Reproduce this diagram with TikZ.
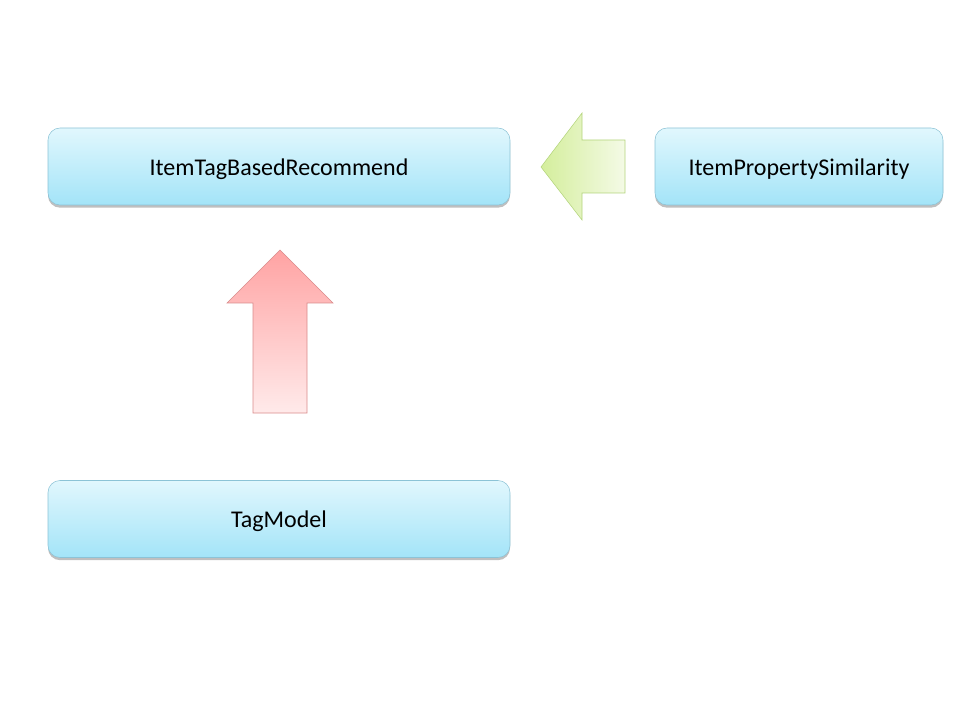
\documentclass[tikz,border=0pt]{standalone}
\usepackage{fontspec}
\setmainfont{Carlito}
\usetikzlibrary{shadows}
\definecolor{boxtop}{HTML}{E1F7FD}
\definecolor{boxbot}{HTML}{A3E4F8}
\definecolor{boxline}{HTML}{8CC3D6}
\definecolor{redtop}{HTML}{FFA3A3}
\definecolor{redbot}{HTML}{FFEAEA}
\definecolor{redline}{HTML}{D98B8B}
\definecolor{grnleft}{HTML}{D4EE9C}
\definecolor{grnright}{HTML}{F4FAE6}
\definecolor{grnline}{HTML}{B3D47C}
\tikzset{
  classbox/.style={draw=boxline, rounded corners=9pt, top color=boxtop, bottom color=boxbot,
    minimum height=57.75pt, text height=12.8pt, text depth=0pt, font=\fontsize{18}{22}\selectfont,
    drop shadow={shadow xshift=0pt, shadow yshift=-2pt, opacity=0.25, fill=black}},
}
\begin{document}
\begin{tikzpicture}[x=0.75pt,y=-0.75pt]
\useasboundingbox (0,0) rectangle (960,720);
\node[classbox, minimum width=346.5pt] (rec) at (279,166.5) {ItemTagBasedRecommend};
\node[classbox, minimum width=216pt] (prop) at (799,166.5) {ItemPropertySimilarity};
\node[classbox, minimum width=346.5pt] (tag) at (279,519) {TagModel};
% TagModel -> ItemTagBasedRecommend
\draw[redline, top color=redtop, bottom color=redbot]
  (280,250) -- (333,303) -- (307,303) -- (307,413) -- (253,413) -- (253,303) -- (227,303) -- cycle;
% ItemPropertySimilarity -> ItemTagBasedRecommend
\draw[grnline, left color=grnleft, right color=grnright]
  (541,167) -- (582,113) -- (582,140) -- (625,140) -- (625,193) -- (582,193) -- (582,220) -- cycle;
\end{tikzpicture}
\end{document}
